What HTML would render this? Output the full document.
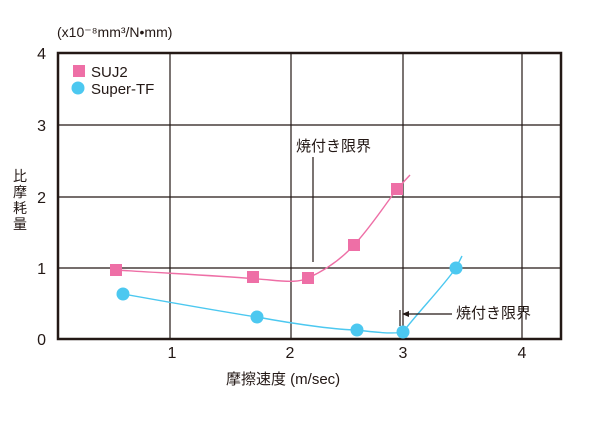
<!DOCTYPE html>
<html><head><meta charset="utf-8"><style>body{margin:0;background:#fff}svg{display:block}</style></head><body>
<svg width="600" height="436" xmlns="http://www.w3.org/2000/svg" font-family="Liberation Sans, Noto Sans CJK JP, sans-serif" fill="#231815">
<g stroke="#231815" stroke-width="1.2">
<line x1="170" y1="53" x2="170" y2="339"/><line x1="291" y1="53" x2="291" y2="339"/><line x1="403" y1="53" x2="403" y2="339"/><line x1="522" y1="53" x2="522" y2="339"/>
<line x1="58" y1="125" x2="561" y2="125"/><line x1="58" y1="197" x2="561" y2="197"/><line x1="58" y1="268" x2="561" y2="268"/>
</g>
<rect x="58" y="53" width="503" height="286" fill="none" stroke="#231815" stroke-width="2.5"/>
<path d="M116,270 C180,274 240,277 270,280 C290,282 300,282 308,278 C330,268 345,255 354,245 C370,228 385,205 397,189 L410,175" fill="none" stroke="#ee6fa6" stroke-width="1.4"/>
<path d="M123,294 C190,306 230,313 257,317 C300,325 340,330 357,330 C380,333 395,334 403,332 C420,310 440,290 456,268 L462,256" fill="none" stroke="#4cc8f0" stroke-width="1.4"/>
<g fill="#ee6fa6"><rect x="110" y="264" width="12" height="12"/><rect x="247" y="271" width="12" height="12"/><rect x="302" y="272" width="12" height="12"/><rect x="348" y="239" width="12" height="12"/><rect x="391" y="183" width="12" height="12"/><rect x="73" y="65" width="12" height="12"/></g>
<g fill="#4cc8f0"><circle cx="123" cy="294" r="6.5"/><circle cx="257" cy="317" r="6.5"/><circle cx="357" cy="330" r="6.5"/><circle cx="403" cy="332" r="6.5"/><circle cx="456" cy="268" r="6.5"/><circle cx="78" cy="88" r="6.5"/></g>
<g stroke="#231815" stroke-width="1.2"><line x1="313" y1="157" x2="313" y2="262"/><line x1="400" y1="310" x2="400" y2="326"/><line x1="405" y1="314" x2="452" y2="314"/></g>
<path d="M402,314 L409,311 L409,317Z"/>
<g font-size="15"><text x="91" y="77">SUJ2</text><text x="91" y="94">Super-TF</text>
<text x="296" y="151">焼付き限界</text><text x="456" y="318">焼付き限界</text></g>
<text x="57" y="37" font-size="14">(x10⁻⁸mm³/N•mm)</text>
<g font-size="16" text-anchor="end"><text x="46" y="59">4</text><text x="46" y="131">3</text><text x="46" y="203">2</text><text x="46" y="274">1</text><text x="46" y="345">0</text></g>
<g font-size="16" text-anchor="middle"><text x="172" y="358">1</text><text x="290" y="358">2</text><text x="403" y="358">3</text><text x="522" y="358">4</text></g>
<g font-size="14" text-anchor="middle"><text x="20" y="181">比</text><text x="20" y="197">摩</text><text x="20" y="213">耗</text><text x="20" y="229">量</text></g>
<text x="226" y="384" font-size="15">摩擦速度 (m/sec)</text>
</svg>
</body></html>
